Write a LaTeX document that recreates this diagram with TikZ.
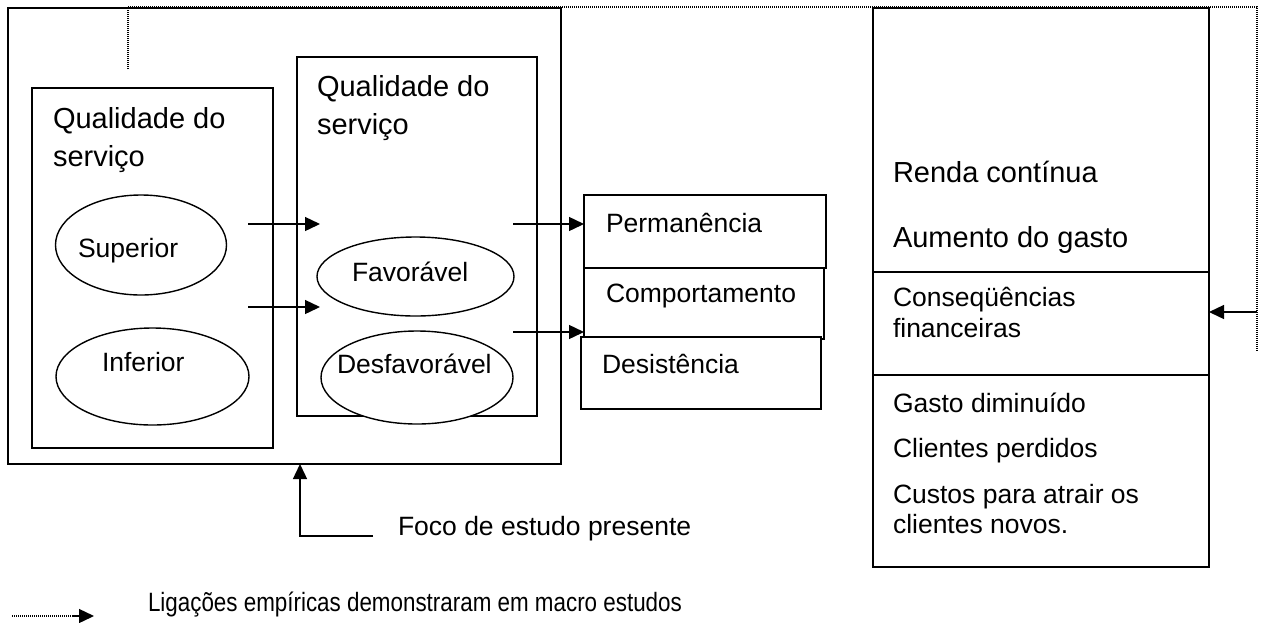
\documentclass[tikz,border=0pt]{standalone}
\usepackage{fontspec}
\setmainfont{Liberation Sans}
\usetikzlibrary{arrows.meta,shapes.geometric}
\newcommand\bigtxt{\fontsize{29}{34}\selectfont}
\newcommand\smtxt{\fontsize{26.5}{31}\selectfont}
\begin{document}
\begin{tikzpicture}[x=1pt,y=-1pt,
  box/.style={draw, line width=1.9pt, rectangle, inner sep=0pt, outer sep=0pt, fill=white},
  oval/.style={draw, line width=1.4pt, ellipse, inner sep=0pt, outer sep=0pt, fill=white},
  conn/.style={line width=1.4pt, -{Triangle[length=15pt,width=14pt]}},
  dotline/.style={line width=1.2pt, black, dash pattern=on 1pt off 1pt},
  lbl/.style={anchor=base west, inner sep=0pt, outer sep=0pt}]
\useasboundingbox (0,0) rectangle (1261,622);

% dotted feedback line
\coordinate (d1) at (128,69);
\coordinate (d2) at (128,7);
\coordinate (d3) at (1257,7);
\coordinate (d4) at (1257,352);
\draw[dotline] (d1) -- (d2) -- (d3) -- (d4);

% outer box and inner boxes
\node[box, minimum width=553pt, minimum height=456pt, fill=none] (outer) at (284.5,236) {};
\node[box, minimum width=241pt, minimum height=360pt, fill=none] (inA) at (152.5,268) {};
\node[box, minimum width=240pt, minimum height=359pt, fill=none] (inB) at (417,236.5) {};

% ellipses
\node[oval, minimum width=171pt, minimum height=100pt] (sup) at (141,245) {};
\node[oval, minimum width=193pt, minimum height=97pt] (inf) at (152.5,376.5) {};
\node[oval, minimum width=197pt, minimum height=79pt] (fav) at (415.5,276.5) {};
\node[oval, minimum width=192pt, minimum height=93pt] (desf) at (417,377.5) {};

% texts in left part
\node[lbl] (qa1) at (53,128) {\bigtxt Qualidade do};
\node[lbl] (qa2) at (53,166) {\bigtxt serviço};
\node[lbl] (qb1) at (317,96) {\bigtxt Qualidade do};
\node[lbl] (qb2) at (317,134) {\bigtxt serviço};
\node[lbl] (tsup) at (78,257) {\smtxt Superior};
\node[lbl] (tinf) at (102,371) {\smtxt Inferior};
\node[lbl] (tfav) at (352,281) {\smtxt Favorável};
\node[lbl] (tdesf) at (337,373) {\smtxt Desfavorável};

% behaviour boxes
\node[box, minimum width=242pt, minimum height=73pt] (perm) at (705,231.5) {};
\node[box, minimum width=240pt, minimum height=71pt] (comp) at (704,303.5) {};
\node[box, minimum width=240pt, minimum height=72pt] (desi) at (701,373) {};
\node[lbl] (tperm) at (606,232) {\smtxt Permanência};
\node[lbl] (tcomp) at (606,302) {\smtxt Comportamento};
\node[lbl] (tdesi) at (602,373) {\smtxt Desistência};

% right box
\node[box, minimum width=336pt, minimum height=264pt] (rtop) at (1041,140) {};
\node[box, minimum width=336pt, minimum height=103pt] (rmid) at (1041,323.5) {};
\node[box, minimum width=336pt, minimum height=192pt] (rbot) at (1041,471) {};
\node[lbl] (tr1) at (893,182) {\bigtxt Renda contínua};
\node[lbl] (tr2) at (893,247) {\bigtxt Aumento do gasto};
\node[lbl] (tr3) at (893,306) {\smtxt Conseqüências};
\node[lbl] (tr4) at (893,337) {\smtxt financeiras};
\node[lbl] (tr5) at (893,412) {\smtxt Gasto diminuído};
\node[lbl] (tr6) at (893,457) {\smtxt Clientes perdidos};
\node[lbl] (tr7) at (893,503) {\smtxt Custos para atrair os};
\node[lbl] (tr8) at (893,533) {\smtxt clientes novos.};

% arrows between stages
\coordinate (a1s) at (248,224); \coordinate (a1e) at (320,224);
\coordinate (a2s) at (248,307); \coordinate (a2e) at (320,307);
\coordinate (a3s) at (513,224);
\coordinate (a4s) at (513,332); \coordinate (a4e) at (584,332);
\draw[conn] (a1s) -- (a1e);
\draw[conn] (a2s) -- (a2e);
\draw[conn] (a3s) -- (a3s -| perm.west);
\draw[conn] (a4s) -- (a4e);

% right arrow into financial consequences
\coordinate (ra) at (1257,312);
\draw[conn] (ra) -- (ra -| rmid.east);

% focus arrow
\coordinate (f1) at (373,536);
\coordinate (f2) at (300,536);
\draw[conn] (f1) -- (f2) -- (f2 |- outer.south);
\node[lbl] (tfoco) at (398,535) {\smtxt Foco de estudo presente};

% legend
\coordinate (l1) at (12,616);
\coordinate (l2) at (72,616);
\coordinate (l3) at (94,616);
\draw[dotline] (l1) -- (l2);
\draw[conn, -{Triangle[length=15pt,width=14pt]}] (l2) -- (l3);
\node[lbl] (tleg) at (148,611) {\smtxt\scalebox{0.845}[1]{Ligações empíricas demonstraram em macro estudos}};
\end{tikzpicture}
\end{document}
